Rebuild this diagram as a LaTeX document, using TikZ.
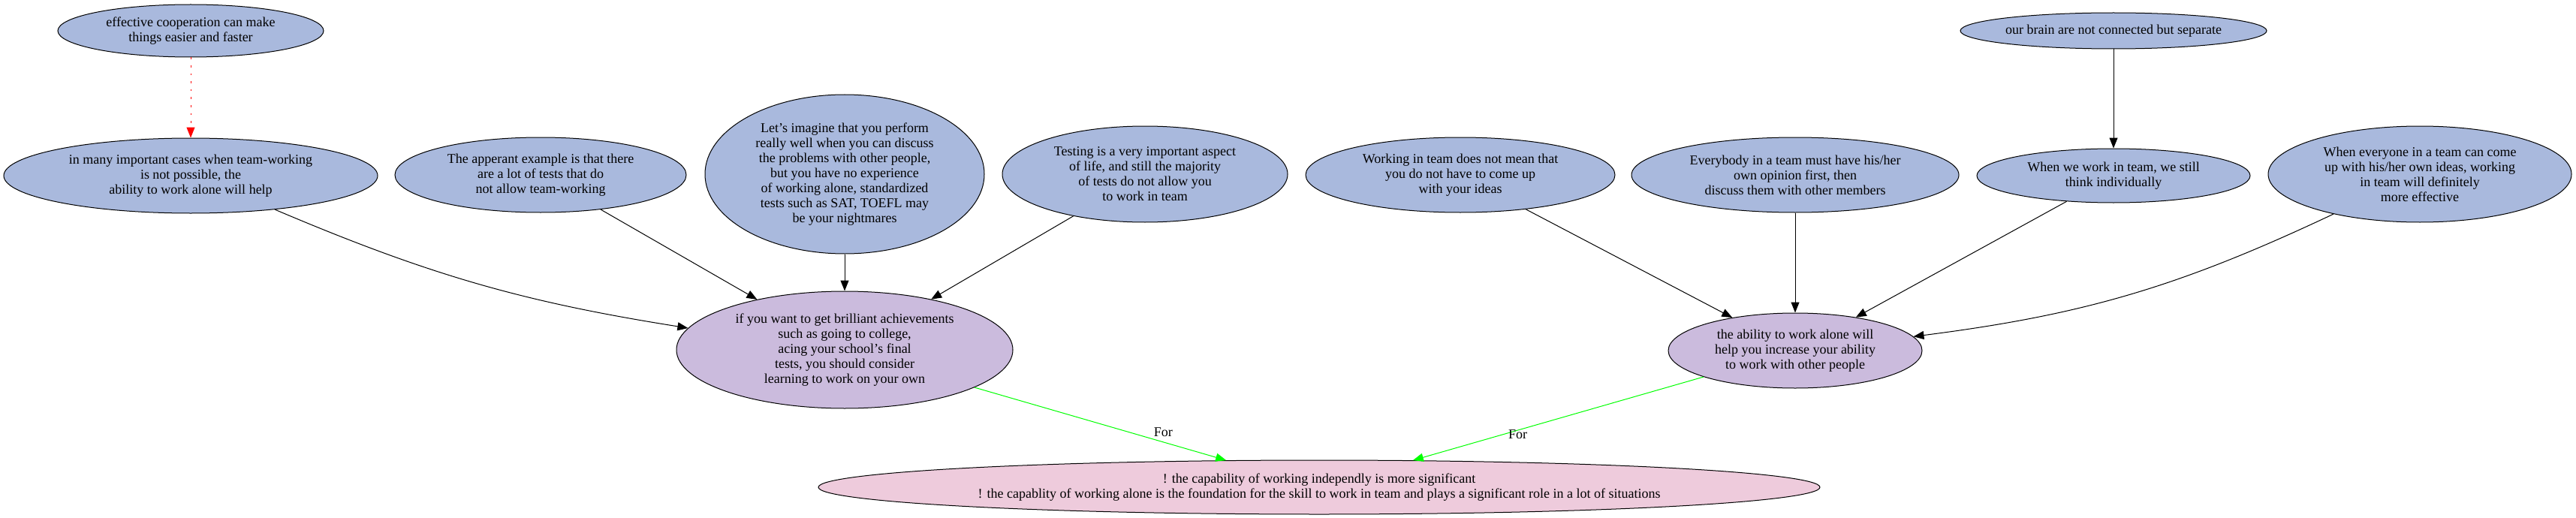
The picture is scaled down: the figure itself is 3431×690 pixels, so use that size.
\documentclass[tikz,border=0pt]{standalone}
\usepackage{fontspec}
\setmainfont{Liberation Serif}
\usetikzlibrary{positioning}
\usetikzlibrary{shapes.geometric}
\usetikzlibrary{arrows.meta}

\definecolor{nodeblue}{HTML}{A9B9DD}
\definecolor{nodepurple}{HTML}{CBBBDD}
\definecolor{nodepink}{HTML}{EECBDC}

\begin{document}
\begin{tikzpicture}[x=0.5pt, y=-0.5pt, line width=0.5pt,
    font=\fontsize{9}{10}\selectfont,
    >={Triangle[length=7pt,width=5.5pt]},
    main/.style = {draw, ellipse, fill=nodeblue, align=center, inner sep=0pt},
    argue/.style = {main, fill=nodepurple},
    claim/.style = {main, fill=nodepink}]
    \useasboundingbox (0,0) rectangle (3431,690);

    % left group
    \node[main, minimum width=177pt, minimum height=35pt] (1) at (254,41) {effective cooperation can make\\things easier and faster};
    \node[main, minimum width=249pt, minimum height=50pt, below=53.5pt of 1] (2) {in many important cases when team-working\\is not possible, the\\ability to work alone will help};
    \node[main, minimum width=194pt, minimum height=50pt] (3) at (720,233) {The apperant example is that there\\are a lot of tests that do\\not allow team-working};
    \node[main, minimum width=186pt, minimum height=106pt] (4) at (1125,232) {Let's imagine that you perform\\really well when you can discuss\\the problems with other people,\\but you have no experience\\of working alone, standardized\\tests such as SAT, TOEFL may\\be your nightmares};
    \node[main, minimum width=190pt, minimum height=64pt] (5) at (1525,232) {Testing is a very important aspect\\of life, and still the majority\\of tests do not allow you\\to work in team};
    \node[argue, minimum width=224pt, minimum height=78pt] (6) at (1125,466) {if you want to get brilliant achievements\\such as going to college,\\acing your school's final\\tests, you should consider\\learning to work on your own};

    % right group
    \node[main, minimum width=206pt, minimum height=50pt] (7) at (1945,233) {Working in team does not mean that\\you do not have to come up\\with your ideas};
    \node[main, minimum width=218pt, minimum height=50pt] (8) at (2391,233) {Everybody in a team must have his/her\\own opinion first, then\\discuss them with other members};
    \node[main, minimum width=204pt, minimum height=24pt] (9) at (2815,41) {our brain are not connected but separate};
    \node[main, minimum width=182pt, minimum height=36pt, below=66pt of 9] (10) {When we work in team, we still\\think individually};
    \node[main, minimum width=202pt, minimum height=64pt] (11) at (3223,232) {When everyone in a team can come\\up with his/her own ideas, working\\in team will definitely\\more effective};
    \node[argue, minimum width=169pt, minimum height=50pt] (12) at (2391,467) {the ability to work alone will\\help you increase your ability\\to work with other people};

    \node[claim, minimum width=667pt, minimum height=36pt] (13) at (1757,649) {! the capability of working independly is more significant\\! the capablity of working alone is the foundation for the skill to work in team and plays a significant role in a lot of situations};

    \draw[->, red, dash pattern=on 1.3pt off 4pt] (1) -- (2);
    \draw[->] (2) to[bend right=7] (6);
    \draw[->] (3) -- (6);
    \draw[->] (4) -- (6);
    \draw[->] (5) -- (6);

    \draw[->] (9) -- (10);
    \draw[->] (7) -- (12);
    \draw[->] (8) -- (12);
    \draw[->] (10) -- (12);
    \draw[->] (11) to[bend left=9] (12);

    % both lead to the claim
    \draw[->, green] (6) -- node[pos=0.75, above, text=black] {For} (13);
    \draw[->, green] (12) -- node[pos=0.69, right, text=black] {For} (13);
\end{tikzpicture}
\end{document}
